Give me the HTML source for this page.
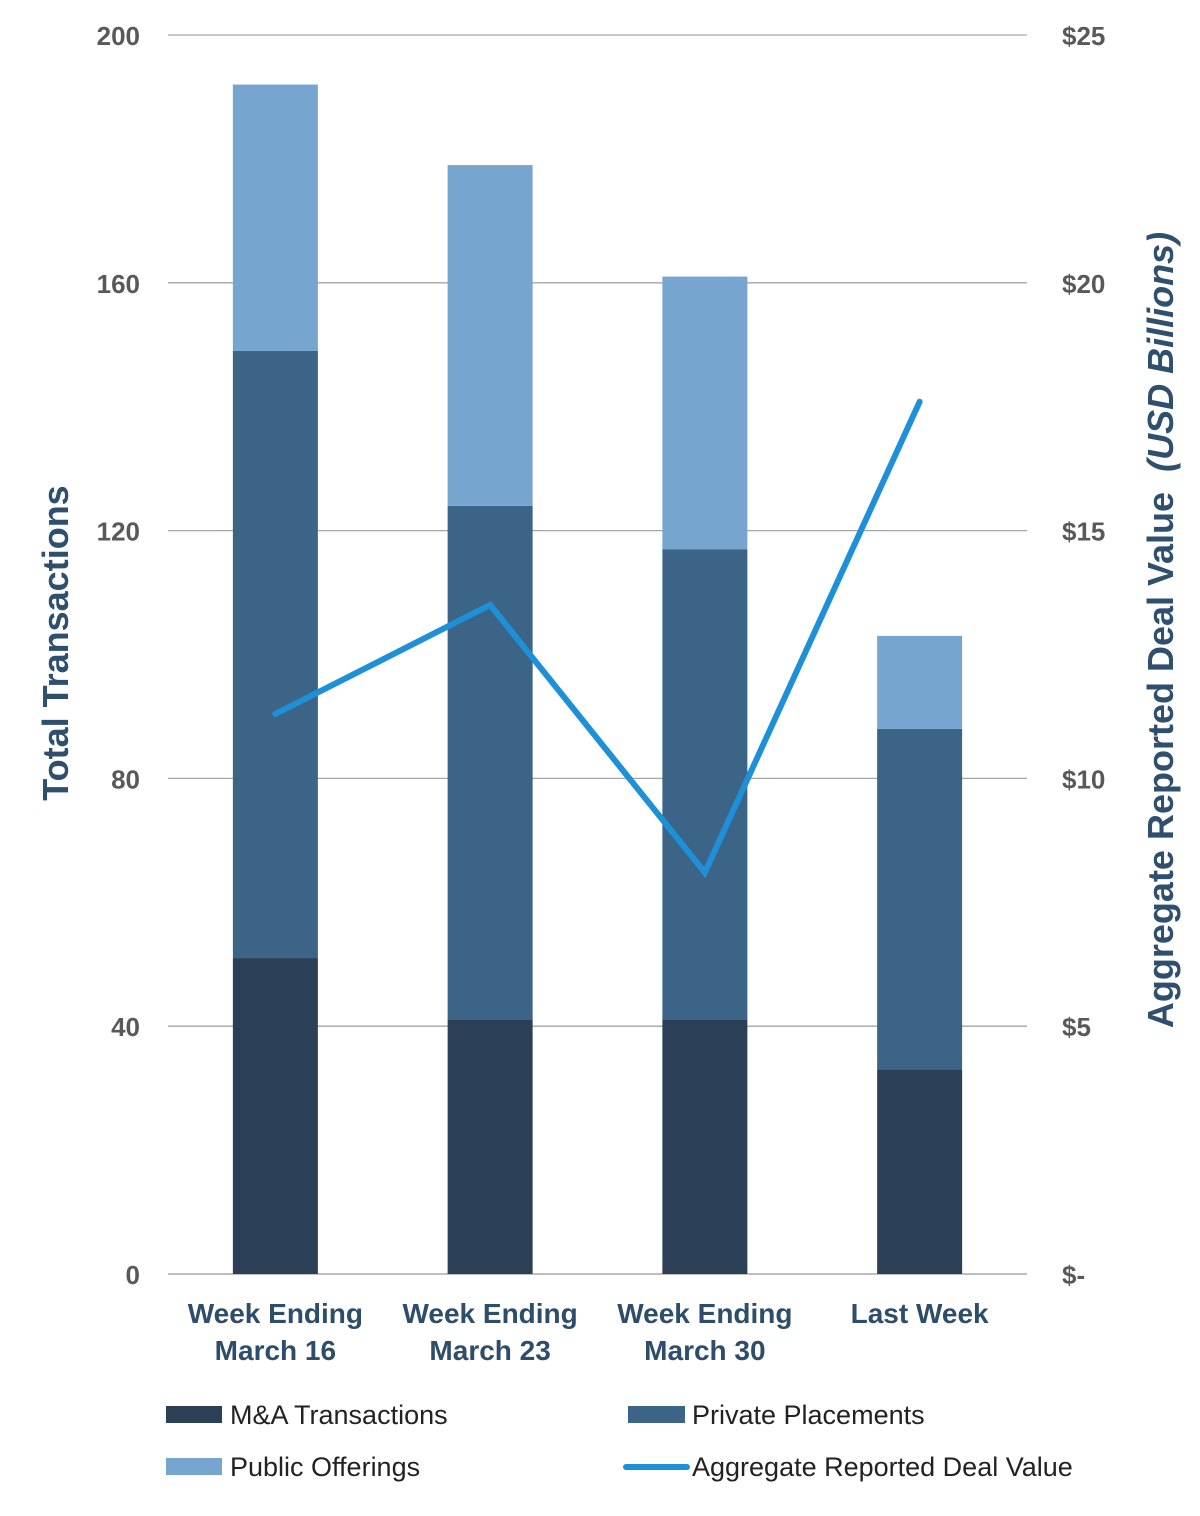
<!DOCTYPE html>
<html><head><meta charset="utf-8"><style>
body{margin:0;background:#fff;}
svg text{font-family:"Liberation Sans",sans-serif;}
</style></head><body>
<svg id="chart" width="1200" height="1511" xmlns="http://www.w3.org/2000/svg">
<g id="grid"></g><g id="bars"></g><g id="line"></g><g id="labels"></g>
<text transform="translate(68,643) rotate(-90)" text-anchor="middle" font-size="36" font-weight="600" fill="#2f4f6e">Total Transactions</text>
<text transform="translate(1173,630) rotate(-90)" text-anchor="middle" font-size="36" font-weight="600" fill="#2f4f6e">Aggregate Reported Deal Value <tspan font-style="italic" dx="10">(USD Billions)</tspan></text>
<g font-size="27" fill="#222">
<rect x="166" y="1406" width="56" height="17" fill="#2b4057"/>
<text x="230" y="1424">M&amp;A Transactions</text>
<rect x="628" y="1406" width="57" height="17" fill="#3b6487"/>
<text x="692" y="1424">Private Placements</text>
<rect x="166" y="1458" width="56" height="17" fill="#76a5d0"/>
<text x="230" y="1476">Public Offerings</text>
<line x1="626" y1="1467" x2="687" y2="1467" stroke="#1e90d8" stroke-width="6" stroke-linecap="round"/>
<text x="692" y="1476">Aggregate Reported Deal Value</text>
</g>
</svg>
<script>
const categories=[["Week Ending","March 16"],["Week Ending","March 23"],["Week Ending","March 30"],["Last Week"]];
const maValues=[51,41,41,33];
const privateValues=[98,83,76,55];
const publicValues=[43,55,44,15];
const dealValues=[11.3,13.5,8.1,17.6];
const leftTicks=[0,40,80,120,160,200];
const rightTicks=["$-","$5","$10","$15","$20","$25"];
const NS="http://www.w3.org/2000/svg";
const x0=168,x1=1027,y0=1274,y1=35;
const yL=v=>y0-(v/200)*(y0-y1);
const yR=v=>y0-(v/25)*(y0-y1);
const bw=(x1-x0)/categories.length;
const xc=i=>x0+bw*(i+0.5);
function mk(t,a,p){const e=document.createElementNS(NS,t);for(const k in a)e.setAttribute(k,a[k]);p.appendChild(e);return e;}
const grid=document.getElementById('grid'),bars=document.getElementById('bars'),line=document.getElementById('line'),labels=document.getElementById('labels');
leftTicks.forEach((t,i)=>{
 const y=yL(t);
 const g=mk('line',{x1:x0,x2:x1,y1:y,y2:y,stroke:i===0?'#999':'#a6a6a6','stroke-width':1.3},grid);
 
 
 const l=mk('text',{x:140,y:y+10,'text-anchor':'end','font-size':26,'font-weight':'bold',fill:'#595959'},labels);
 l.textContent=t;
 
 
 const r=mk('text',{x:1062,y:y+10,'font-size':26,'font-weight':'bold',fill:'#595959'},labels);
 r.textContent=rightTicks[i];
 
 
});
const series=[[maValues,'#2b4057','bar-ma'],[privateValues,'#3b6487','bar-private'],[publicValues,'#76a5d0','bar-public']];
categories.forEach((c,i)=>{
 let base=0;
 series.forEach(([vals,col,name])=>{
  const top=base+vals[i];
  const r=mk('rect',{x:xc(i)-42.5,width:85,y:yL(top),height:yL(base)-yL(top),fill:col},bars);
  
  
  base=top;
 });
 c.forEach((s,j)=>{
  const t=mk('text',{x:xc(i),y:1323+j*37,'text-anchor':'middle','font-size':28,'font-weight':'bold',fill:'#2e4d6b'},labels);
  t.textContent=s;
  
  
 });
});
const pl=mk('polyline',{points:dealValues.map((v,i)=>xc(i)+','+yR(v)).join(' '),fill:'none',stroke:'#1e90d8','stroke-width':6,'stroke-linejoin':'miter','stroke-linecap':'round'},line);


</script>
</body></html>
